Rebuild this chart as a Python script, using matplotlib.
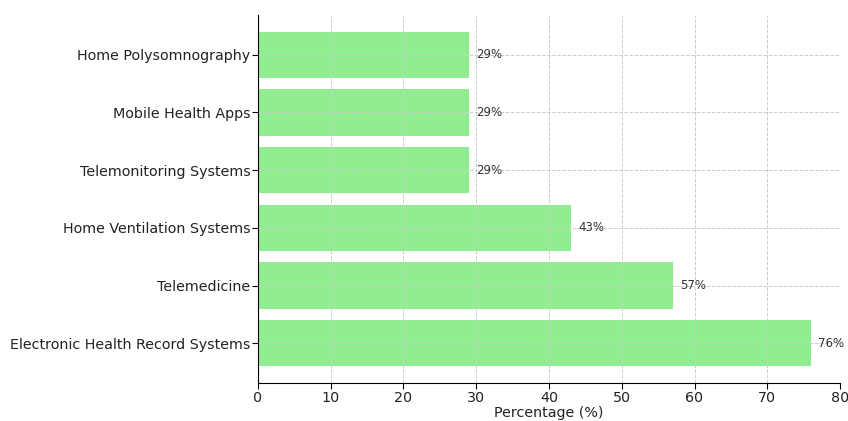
import matplotlib.pyplot as plt

categories = ["Electronic Health Record Systems", "Telemedicine", "Home Ventilation Systems",
              "Telemonitoring Systems", "Mobile Health Apps", "Home Polysomnography"]
percentages = [76, 57, 43, 29, 29, 29]

fig = plt.figure(figsize=(8.48, 4.21), dpi=100)
ax = fig.add_axes([0.3042, 0.0903, 0.6864, 0.8741])

bars = ax.barh(categories, percentages, color="lightgreen", height=0.8)
ax.set_xlim(0, 80)
ax.set_xlabel("Percentage (%)", fontsize=10.3, labelpad=1, color="#222222")
ax.tick_params(axis="both", labelsize=10.3, length=4, pad=1.5, labelcolor="#222222")
ax.grid(True, linestyle="--", color="#cccccc", linewidth=0.7)
ax.spines["top"].set_visible(False)
ax.spines["right"].set_visible(False)

for bar, val in zip(bars, percentages):
    ax.text(bar.get_width() + 1, bar.get_y() + bar.get_height() / 2, f"{val}%",
            va="center", ha="left", fontsize=8.5, color="#333333")

fig.savefig("out.png", dpi=100)
